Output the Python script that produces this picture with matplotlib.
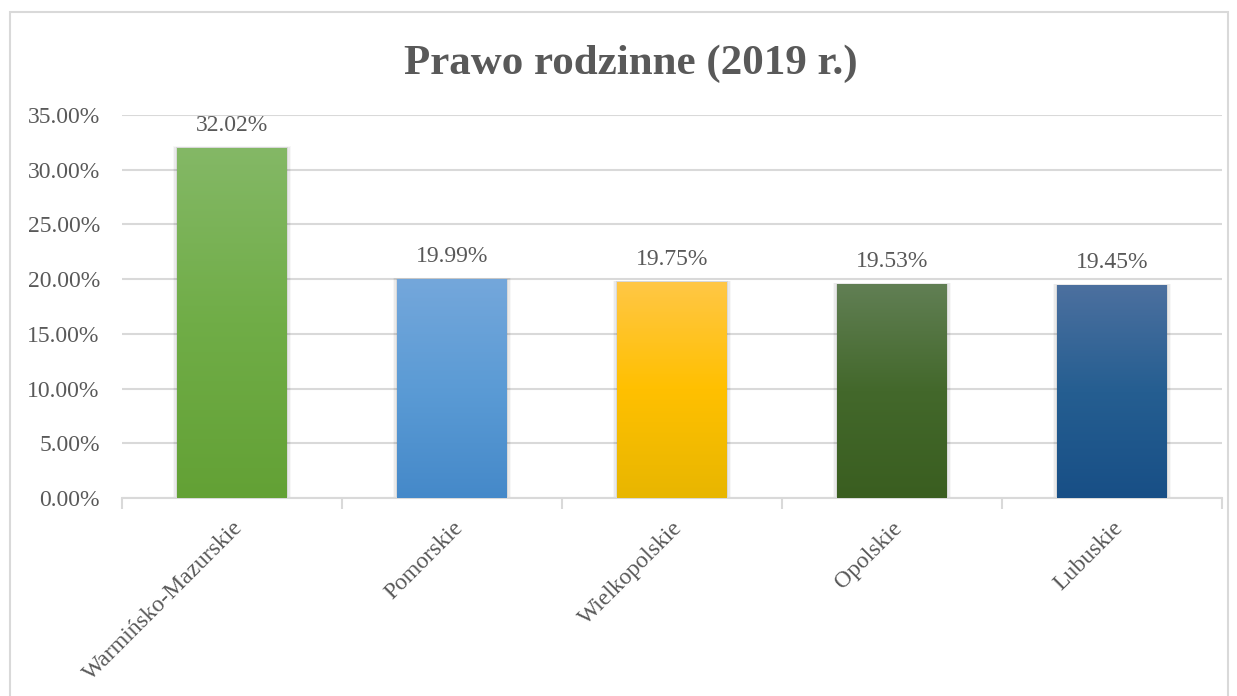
import numpy as np
import matplotlib
matplotlib.use('Agg')
import matplotlib.pyplot as plt
from matplotlib.colors import LinearSegmentedColormap
from matplotlib.patches import Rectangle
from matplotlib.ticker import FuncFormatter, MultipleLocator

# Data
regions = ['Warmińsko-Mazurskie', 'Pomorskie', 'Wielkopolskie', 'Opolskie', 'Lubuskie']
values = [32.02, 19.99, 19.75, 19.53, 19.45]
title = 'Prawo rodzinne (2019 r.)'

# gradient stops per bar: top, middle, bottom
grads = [
    ('#84b866', '#70ad47', '#63a135'),
    ('#74a7db', '#5b9bd5', '#4589c9'),
    ('#ffc746', '#ffc000', '#e8b600'),
    ('#617f54', '#43682b', '#3a5e20'),
    ('#4c709f', '#255e91', '#184f86'),
]

plt.rcParams['font.family'] = ['Liberation Serif', 'DejaVu Serif']
text_col = '#595959'
grid_col = '#d9d9d9'

fig = plt.figure(figsize=(12.37, 6.96), dpi=100)
ax = fig.add_axes([122 / 1237, 1 - 498 / 696, 1100 / 1237, 383 / 696])

x = np.arange(len(regions))
width = 0.5

grad = np.linspace(0, 1, 256).reshape(-1, 1)
for i, (v, g) in enumerate(zip(values, grads)):
    # soft shadow
    for k, a in enumerate([0.07, 0.05, 0.03]):
        off = 0.006 * (k + 1)
        ax.add_patch(Rectangle((x[i] - width / 2 - off, 0), width + 2 * off, v + off * 6,
                               facecolor='black', alpha=a, edgecolor='none', zorder=2))
    cmap = LinearSegmentedColormap.from_list('g%d' % i, [g[2], g[1], g[0]])
    bar = ax.bar(x[i], v, width=width, color='none', edgecolor='none', zorder=3)[0]
    im = ax.imshow(grad, cmap=cmap, origin='lower', aspect='auto',
                   extent=(x[i] - width / 2, x[i] + width / 2, 0, v), zorder=3)
    im.set_clip_path(bar)
    ax.text(x[i], v + 1.1, '%.2f%%' % v, ha='center', va='bottom',
            fontsize=17, color=text_col, zorder=4)

ax.set_xlim(-0.5, len(regions) - 0.5)
ax.set_ylim(0, 35)
ax.yaxis.set_major_locator(MultipleLocator(5))
ax.yaxis.set_major_formatter(FuncFormatter(lambda v, p: '%.2f%%' % v))
ax.grid(axis='y', color=grid_col, linewidth=1.5, zorder=0)
ax.set_axisbelow(True)
for s in ['top', 'right', 'left']:
    ax.spines[s].set_visible(False)
ax.spines['bottom'].set_color(grid_col)
ax.spines['bottom'].set_linewidth(1.5)
ax.tick_params(axis='y', length=0, labelsize=17, labelcolor=text_col, pad=16)

ax.set_xticks(x)
ax.set_xticklabels(regions, rotation=45, ha='right', va='top', rotation_mode='anchor',
                   fontsize=17, color=text_col)
ax.tick_params(axis='x', length=0, pad=14)
ax.set_xticks(np.arange(len(regions) + 1) - 0.5, minor=True)
ax.tick_params(axis='x', which='minor', length=8, width=1.5, color=grid_col, direction='out')

fig.text(631 / 1237, 1 - 64 / 696, title, ha='center', va='center', fontsize=31,
         fontweight='bold', color=text_col)

# outer chart border
fig.patches.append(Rectangle((10 / 1237, -0.05), 1218 / 1237, 1 - 12 / 696 + 0.05,
                             transform=fig.transFigure, fill=False,
                             edgecolor=grid_col, linewidth=1.5))

fig.savefig('out.png', dpi=100)
